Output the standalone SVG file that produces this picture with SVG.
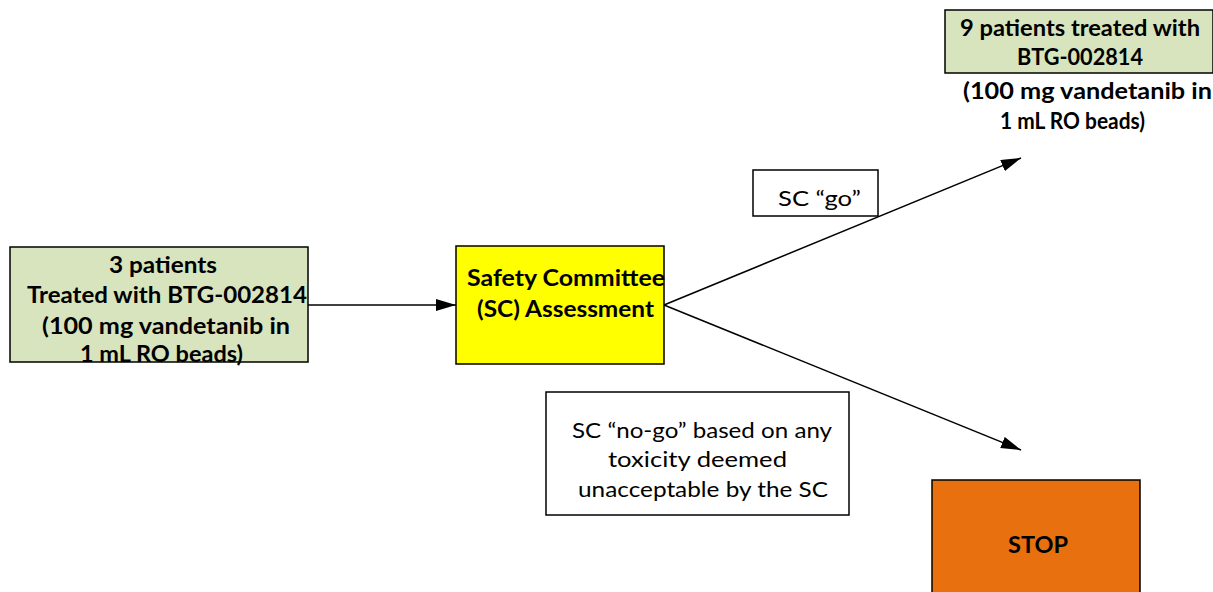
<svg xmlns="http://www.w3.org/2000/svg" width="1213" height="592" viewBox="0 0 1213 592">
<style>
.box{stroke:#000;stroke-width:1.5}
.b{font-family:Lato,"Liberation Sans",sans-serif;font-weight:bold;font-size:22px;fill:#000}
.r{font-family:Lato,"Liberation Sans",sans-serif;font-size:22px;fill:#000}
.conn{stroke:#000;stroke-width:1.5;fill:none}
</style>
<defs>
<marker id="arr" viewBox="0 0 20 12" refX="20" refY="6" markerWidth="20" markerHeight="12" markerUnits="userSpaceOnUse" orient="auto">
<path d="M0,0 L20,6 L0,12 z" fill="#000"/>
</marker>
</defs>
<rect width="1213" height="592" fill="#fff"/>
<g id="connectors">
<line class="conn" x1="308" y1="305" x2="456" y2="305" marker-end="url(#arr)"/>
<line class="conn" x1="664" y1="305" x2="1021" y2="158" marker-end="url(#arr)"/>
<line class="conn" x1="664" y1="305" x2="1021" y2="450" marker-end="url(#arr)"/>
</g>
<g id="node-start">
<rect class="box" x="10" y="247" width="298" height="115" fill="#d7e4bd"/>
<text class="b" x="109" y="273" textLength="108" lengthAdjust="spacingAndGlyphs">3 patients</text>
<text class="b" x="27" y="303" textLength="280" lengthAdjust="spacingAndGlyphs">Treated with BTG-002814</text>
<text class="b" x="42" y="334" textLength="248" lengthAdjust="spacingAndGlyphs">(100 mg vandetanib in</text>
<text class="b" x="80" y="362" textLength="163" lengthAdjust="spacingAndGlyphs">1 mL RO beads)</text>
</g>
<g id="node-sc">
<rect class="box" x="456" y="246" width="208" height="118" fill="#ffff00"/>
<text class="b" x="467" y="286" textLength="198" lengthAdjust="spacingAndGlyphs">Safety Committee</text>
<text class="b" x="477" y="317" textLength="177" lengthAdjust="spacingAndGlyphs">(SC) Assessment</text>
</g>
<g id="node-go-label">
<rect class="box" x="753" y="170" width="125" height="46" fill="#fff"/>
<text class="r" x="778" y="206" textLength="83" lengthAdjust="spacingAndGlyphs">SC “go”</text>
</g>
<g id="node-nine">
<rect class="box" x="945" y="10" width="268" height="63" fill="#d7e4bd"/>
<text class="b" x="960" y="36" textLength="240" lengthAdjust="spacingAndGlyphs">9 patients treated with</text>
<text class="b" x="1017" y="65" textLength="126" lengthAdjust="spacingAndGlyphs">BTG-002814</text>
<text class="b" x="963" y="99" textLength="249" lengthAdjust="spacingAndGlyphs">(100 mg vandetanib in</text>
<text class="b" x="1000" y="129" textLength="145" lengthAdjust="spacingAndGlyphs">1 mL RO beads)</text>
</g>
<g id="node-nogo-label">
<rect class="box" x="546" y="392" width="303" height="123" fill="#fff"/>
<text class="r" x="572" y="438" textLength="260" lengthAdjust="spacingAndGlyphs">SC “no-go” based on any</text>
<text class="r" x="608" y="467" textLength="179" lengthAdjust="spacingAndGlyphs">toxicity deemed</text>
<text class="r" x="578" y="497" textLength="250" lengthAdjust="spacingAndGlyphs">unacceptable by the SC</text>
</g>
<g id="node-stop">
<rect class="box" x="932" y="480" width="208" height="120" fill="#e8700e"/>
<text class="b" x="1008" y="553" textLength="60" lengthAdjust="spacingAndGlyphs">STOP</text>
</g>
</svg>
